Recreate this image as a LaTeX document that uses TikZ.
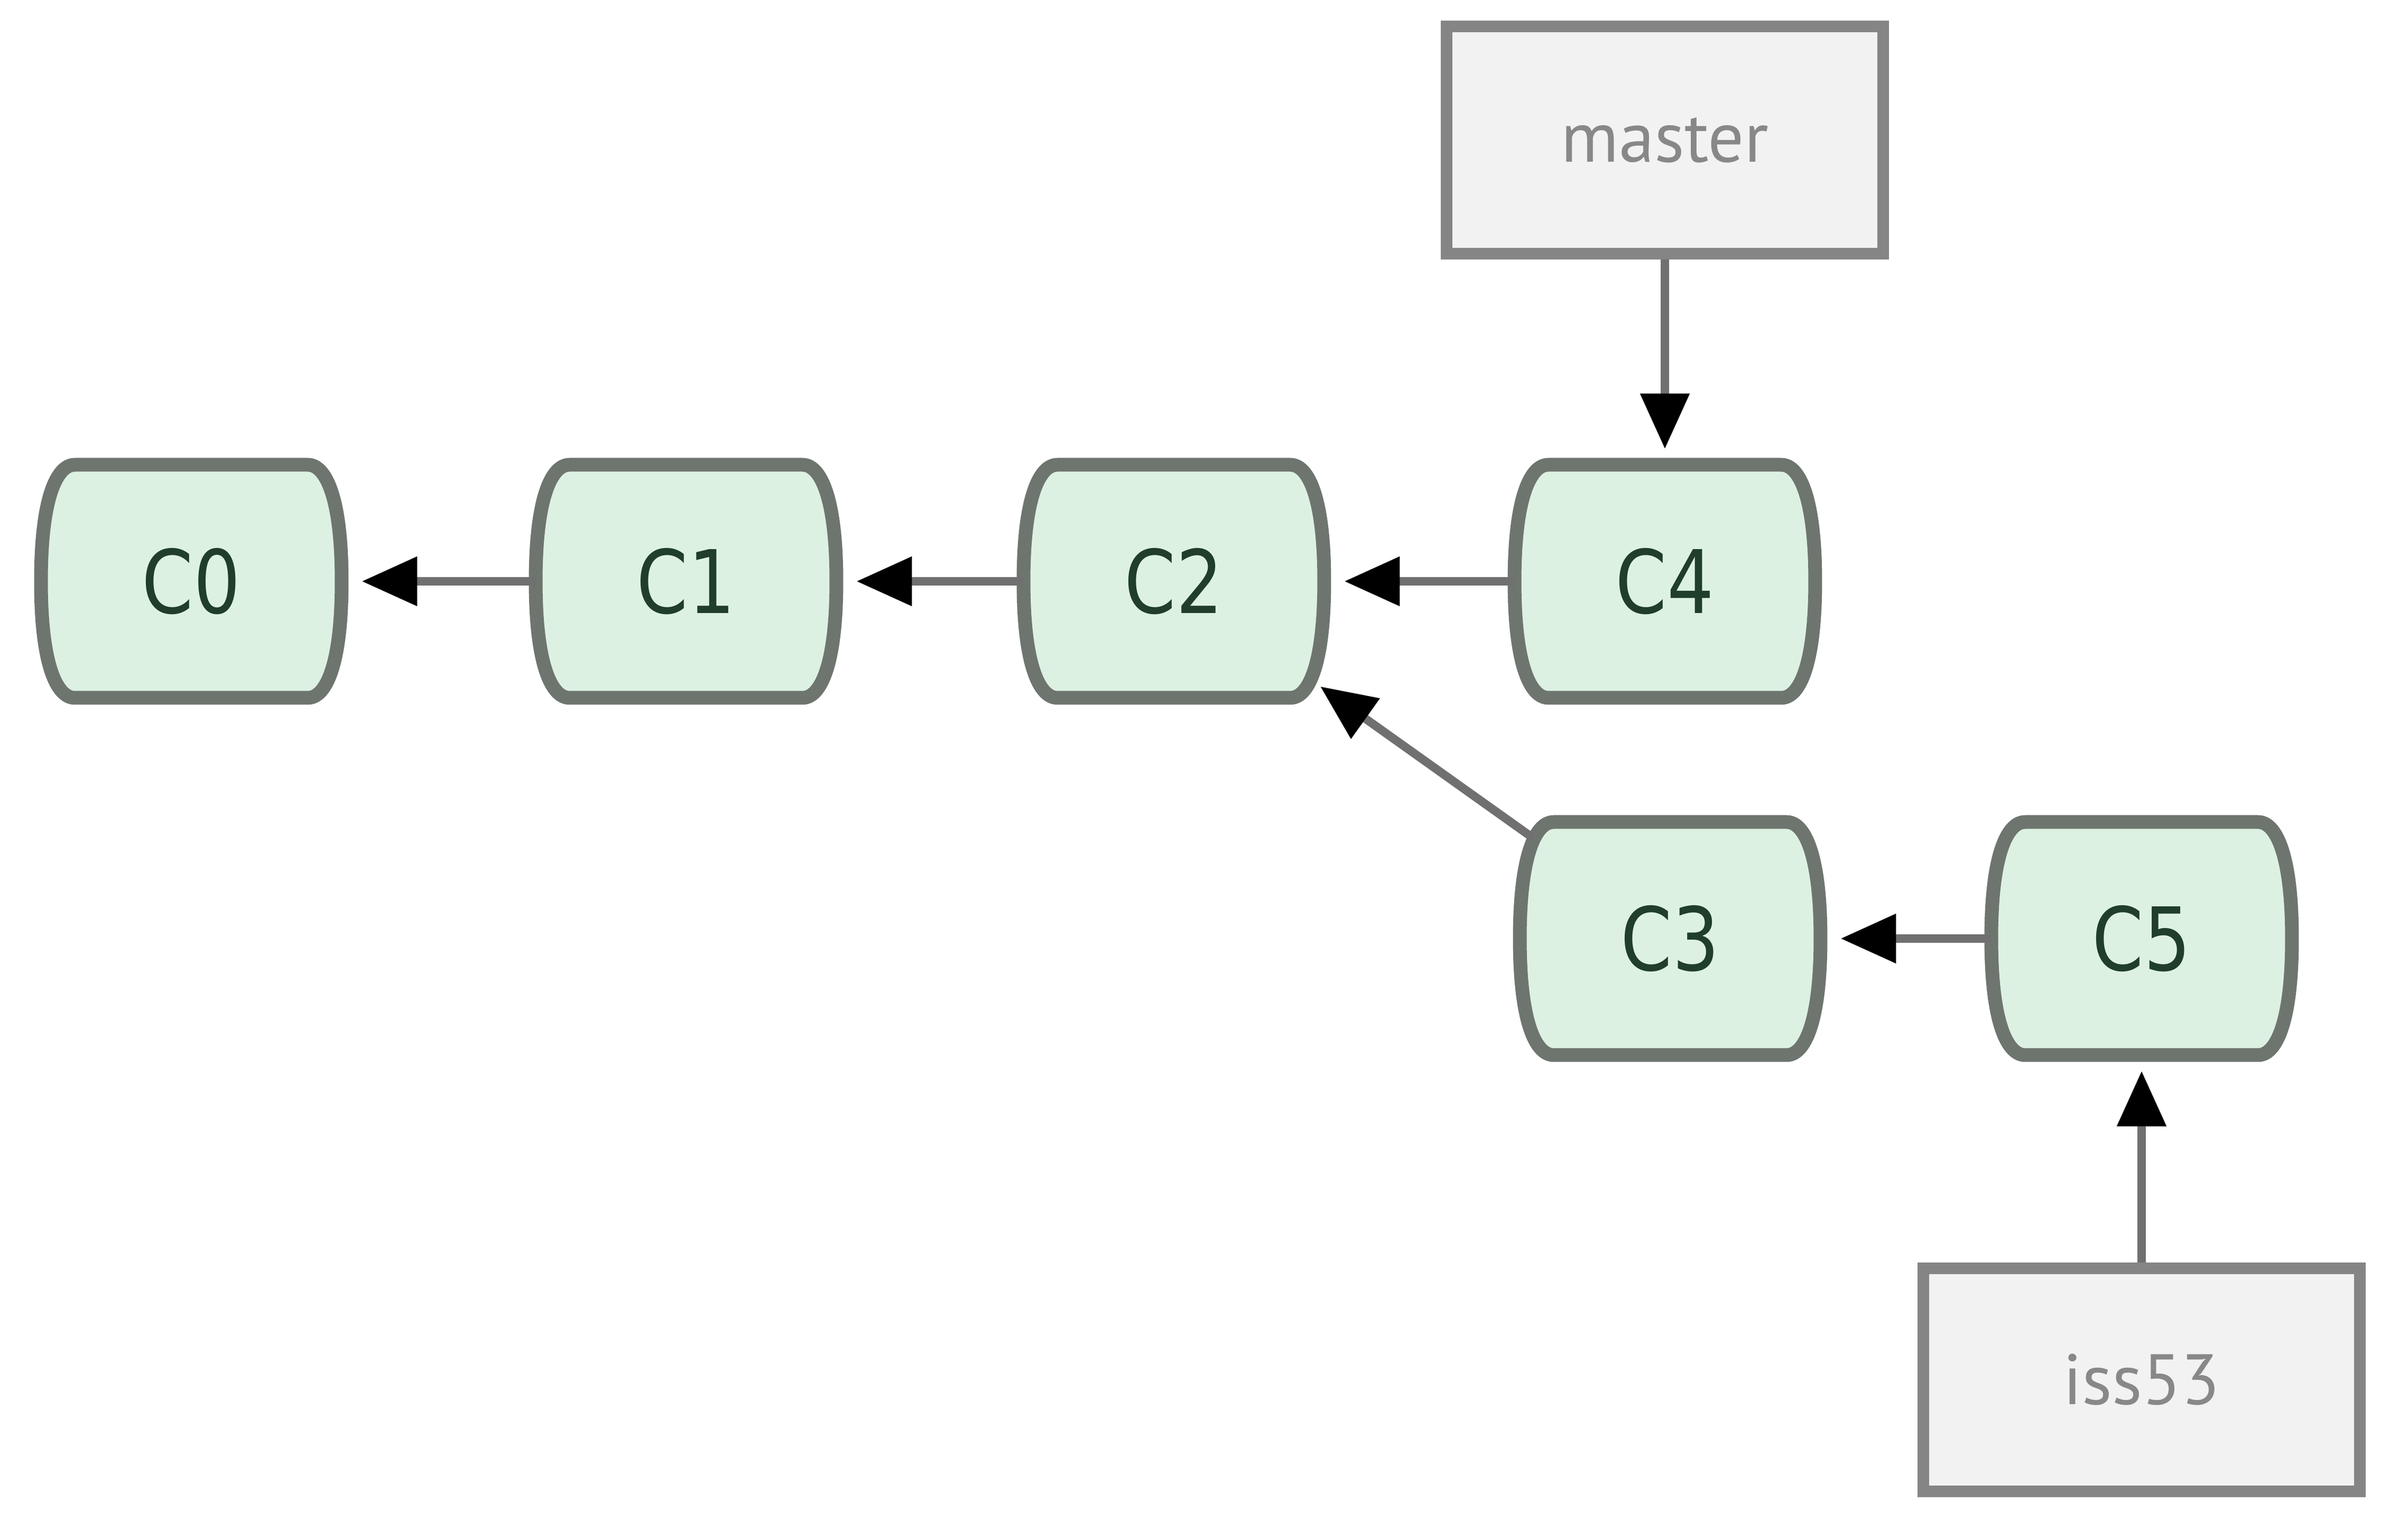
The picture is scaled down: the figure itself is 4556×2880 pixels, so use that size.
\documentclass[tikz,border=0pt]{standalone}
\usepackage{fontspec}
\setmainfont{PT Sans}
\newfontfamily\commitfont{DejaVu Sans}[FakeStretch=0.84]
\usetikzlibrary{arrows.meta,backgrounds,calc}
\definecolor{commitfill}{RGB}{221,241,226}
\definecolor{commitdraw}{RGB}{110,117,111}
\definecolor{committext}{RGB}{32,62,42}
\definecolor{reffill}{RGB}{242,242,242}
\definecolor{refdraw}{RGB}{133,133,133}
\definecolor{reftext}{RGB}{136,136,136}
\definecolor{connline}{RGB}{112,112,112}
\tikzset{
  commit/.style={minimum width=56.5pt, minimum height=43.7pt, inner sep=0pt,
    text=committext, font=\commitfont\fontsize{16.6}{20}\selectfont},
  commitshape/.style={fill=commitfill, draw=commitdraw, line width=2.6pt, line join=round},
  refbox/.style={draw=refdraw, fill=reffill, line width=2.2pt, minimum width=82.7pt,
    minimum height=43pt, inner sep=0pt, text=reftext, font=\fontsize{13.5}{16}\selectfont},
  conn/.style={draw=connline, line width=1.6pt,
    -{Triangle[length=10.5pt,width=9pt,color=black]}},
}
\newcommand\commitoutline[1]{%
  \path[commitshape] ($(#1.north west)+(64,0)$) -- ($(#1.north east)+(-64,0)$)
    .. controls ($(#1.north east)+(-30,0)$) and ($(#1.east)+(0,-158.5)$) .. (#1.east)
    .. controls ($(#1.east)+(0,158.5)$) and ($(#1.south east)+(-30,0)$) .. ($(#1.south east)+(-64,0)$)
    -- ($(#1.south west)+(64,0)$)
    .. controls ($(#1.south west)+(30,0)$) and ($(#1.west)+(0,158.5)$) .. (#1.west)
    .. controls ($(#1.west)+(0,-158.5)$) and ($(#1.north west)+(30,0)$) .. cycle;}
\begin{document}
\begin{tikzpicture}[x=0.1pt, y=-0.1pt]
  \useasboundingbox (0,0) rectangle (4556,2880);
  % commits
  \node[commit] (C0) at (362,1100) {C0};
  \node[commit] (C1) at (1298,1100) {C1};
  \node[commit] (C2) at (2221,1100) {C2};
  \node[commit] (C4) at (3150,1100) {C4};
  \node[commit] (C3) at (3160,1776) {C3};
  \node[commit] (C5) at (4052,1776) {C5};
  % branch refs
  \node[refbox] (master) at (3150,265) {master};
  \node[refbox, minimum height=42.2pt] (iss53) at (4052,2611) {iss53};
  \begin{scope}[on background layer]
    \fill[white] (0,0) rectangle (4556,2880);
    \foreach \n in {C0,C1,C2,C4,C3,C5} {\commitoutline{\n}}
  \end{scope}
  % connectors
  \draw[conn, shorten >=3.8pt] (C1.west) -- (C0.east);
  \draw[conn, shorten >=3.8pt] (C2.west) -- (C1.east);
  \draw[conn, shorten >=3.8pt] (C4.west) -- (C2.east);
  \draw[conn, shorten >=3.8pt] (C5.west) -- (C3.east);
  \draw[conn] ($(C3.north west)+(25.5,30.5)$) -- ($(C2.south east)+(-7.5,-21.5)$);
  \draw[conn, shorten >=3pt] (master.south) -- (C4.north);
  \draw[conn, shorten >=3pt] (iss53.north) -- (C5.south);
\end{tikzpicture}
\end{document}
